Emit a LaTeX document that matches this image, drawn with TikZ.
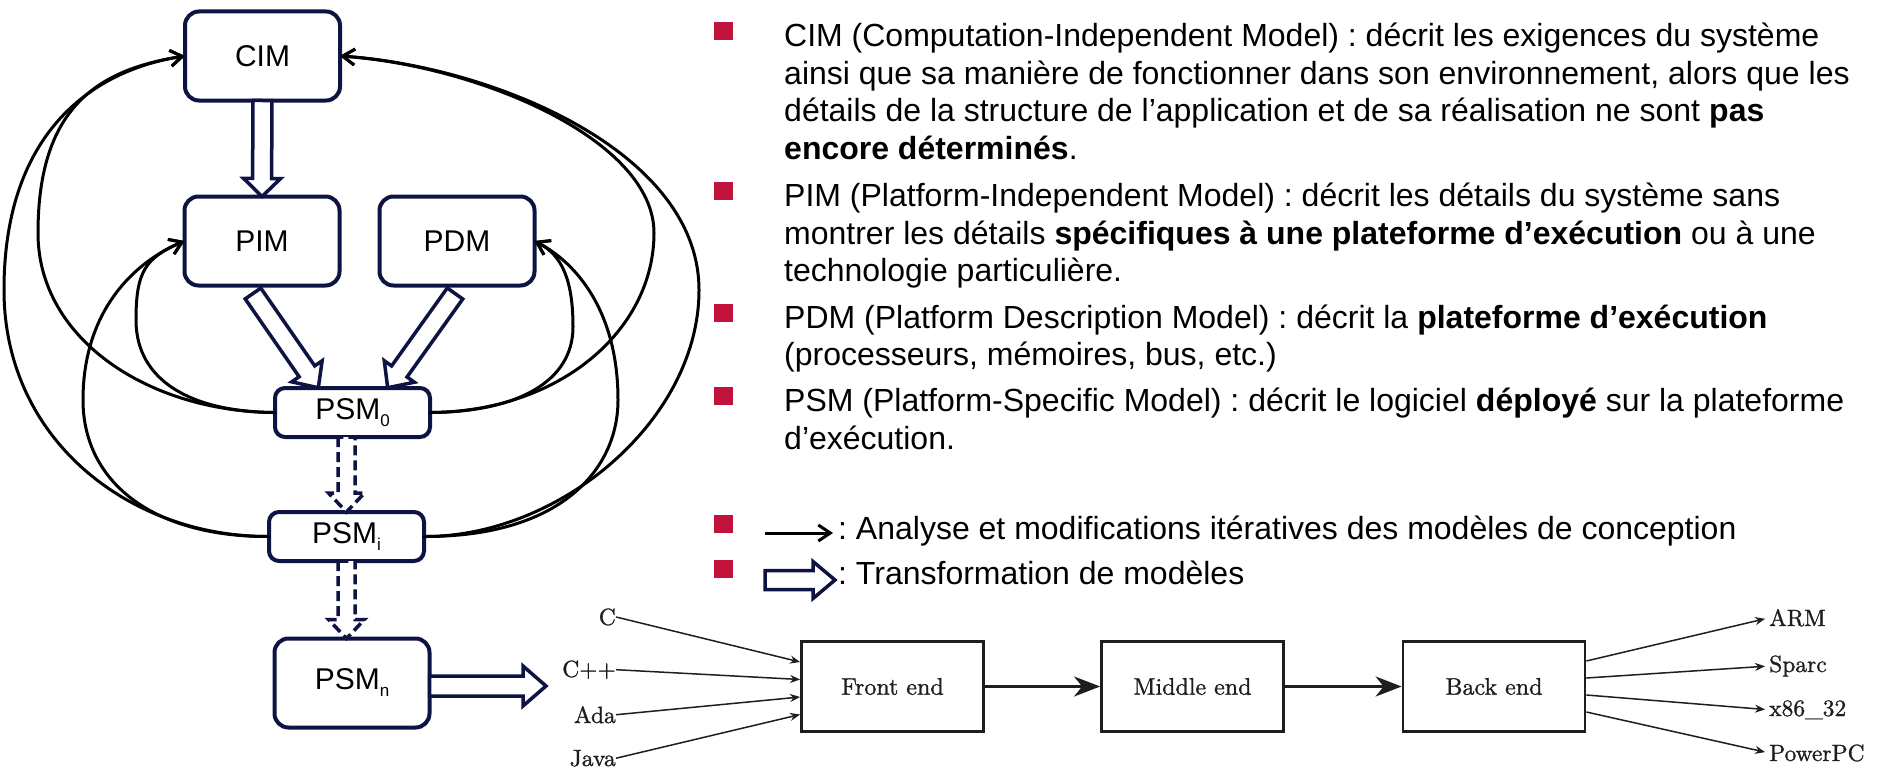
\documentclass[tikz,border=0pt]{standalone}
\usepackage{fontspec}
\setsansfont{Liberation Sans}
\newfontfamily\cmfont{lmroman10-regular.otf}[FakeBold=1.1]
\usetikzlibrary{arrows.meta,calc}
\frenchspacing

\definecolor{navy}{RGB}{13,19,66}
\definecolor{bulletred}{RGB}{192,18,58}
\definecolor{ink}{RGB}{30,30,30}

% small lowered index after a model name
\newcommand{\mdlidx}[1]{\raisebox{-7pt}{\fontsize{17}{17}\selectfont #1}}

% Hollow block arrow from #2 to #3: shaft half-width #4, head half-width #5, head length #6
\newcommand{\fatarrow}[6][]{%
  \path (#2) coordinate (fa-s) (#3) coordinate (fa-e);
  \pgfpointdiff{\pgfpointanchor{fa-s}{center}}{\pgfpointanchor{fa-e}{center}}%
  \pgfgetlastxy{\fadx}{\fady}%
  \pgfmathsetmacro{\falen}{veclen(\fadx,\fady)}%
  \pgfmathsetmacro{\faang}{atan2(\fady,\fadx)}%
  \pgfmathsetmacro{\faneck}{\falen-#6}%
  \begin{scope}[shift={(fa-s)}, rotate=\faang]
    \draw[fatarrow,#1] (0pt,-#4pt) -- (\faneck pt,-#4pt) -- (\faneck pt,-#5pt)
      -- (\falen pt,0pt) -- (\faneck pt,#5pt) -- (\faneck pt,#4pt) -- (0pt,#4pt) -- cycle;
  \end{scope}}

\begin{document}
\begin{tikzpicture}[x=1pt,y=-1pt,
  model/.style={draw=navy, line width=4pt, fill=white, inner sep=0pt, outer sep=0pt,
    font=\sffamily\fontsize{30}{36}\selectfont, text=black, minimum width=155pt},
  bigmodel/.style={model, rounded corners=14pt, minimum height=89pt},
  flatmodel/.style={model, rounded corners=10pt, minimum height=49pt},
  iter/.style={line width=3pt, line cap=round, -{Straight Barb[length=12pt,width=16pt]}},
  fatarrow/.style={draw=navy, line width=3.5pt, fill=white, line join=miter},
  fatdashed/.style={dash pattern=on 10pt off 5pt},
  line/.style={font=\sffamily\fontsize{32}{37.5}\selectfont, anchor=base west, inner sep=0pt},
  bullet/.style={fill=bulletred, minimum width=19pt, minimum height=18pt, inner sep=0pt},
  stage/.style={draw=ink, line width=2.8pt, minimum width=182pt, minimum height=90pt,
    font=\cmfont\fontsize{24}{28}\selectfont, text=ink, inner sep=0pt},
  lang/.style={font=\cmfont\fontsize{23.5}{28}\selectfont, text=ink, inner sep=0pt},
  feed/.style={draw=ink, line width=1.5pt, -{Stealth[length=10pt,width=8pt]}},
  flow/.style={draw=ink, line width=2.6pt, -{Stealth[length=26pt,width=20pt,inset=8pt]}},
]
\fill[white] (0,0) rectangle (1880,768);
\useasboundingbox (0,0) rectangle (1880,768);

% ---------- MDA models ----------
\node[bigmodel] (CIM) at (262.5,56) {CIM};
\node[bigmodel] (PIM) at (262,241) {PIM};
\node[bigmodel] (PDM) at (457,241) {PDM};
\node[flatmodel] (PSM0) at (352.5,412.5) {PSM\mdlidx{0}};
\node[flatmodel] (PSMi) at (346.5,536.5) {PSM\mdlidx{i}};
\node[bigmodel] (PSMn) at (352,683) {PSM\mdlidx{n}};

% iterative feedback loops, left side
\draw[iter] (PSM0.west) .. controls (150,412) and (38,340) .. (38,233)
  .. controls (38,110) and (95,70) .. (CIM.west);
\draw[iter] (PSMi.west) .. controls (130,537) and (4,440) .. (4,290)
  .. controls (4,130) and (95,70) .. (CIM.west);
\draw[iter] (PSM0.west) .. controls (190,412) and (136,380) .. (136,320)
  .. controls (136,272) and (145,258) .. (PIM.west);
\draw[iter] (PSMi.west) .. controls (150,537) and (83,480) .. (83,400)
  .. controls (83,310) and (135,262) .. (PIM.west);
% iterative feedback loops, right side
\draw[iter] (PSM0.east) .. controls (560,412) and (654,330) .. (654,233)
  .. controls (654,140) and (480,66) .. (CIM.east);
\draw[iter] (PSMi.east) .. controls (560,537) and (699,420) .. (699,290)
  .. controls (699,150) and (490,66) .. (CIM.east);
\draw[iter] (PSM0.east) .. controls (520,412) and (573,380) .. (573,327)
  .. controls (573,280) and (562,255) .. (PDM.east);
\draw[iter] (PSMi.east) .. controls (560,537) and (618,470) .. (618,400)
  .. controls (618,310) and (575,262) .. (PDM.east);

% model transformations
\fatarrow{CIM.south}{PIM.north}{9.5}{18.5}{18}
\fatarrow{$(PIM.south)+(-9,8)$}{$(PSM0.north)+(-34,0)$}{9.5}{18.5}{20}
\fatarrow{$(PDM.south)+(-2,8)$}{$(PSM0.north)+(35,0)$}{9.5}{18.5}{20}
\fatarrow[fatdashed]{PSM0.south -| PSMi.north}{PSMi.north}{8.5}{18}{19}
\fatarrow[fatdashed]{PSMi.south}{PSMi.south |- PSMn.north}{8.5}{18}{19}
\coordinate (handoff) at (546,686);
\fatarrow{$(PSMn.east)+(0,3)$}{handoff}{10}{20}{23}

% ---------- definitions ----------
\node[bullet] (b1) at (723.5,31) {};
\node[line] (c1) at (784,46.7) {CIM (Computation-Independent Model) : décrit les exigences du système};
\node[line] (c2) at (784,84.2) {ainsi que sa manière de fonctionner dans son environnement, alors que les};
\node[line] (c3) at (784,121.7) {détails de la structure de l’application et de sa réalisation ne sont \textbf{pas}};
\node[line] (c4) at (784,159.2) {\textbf{encore déterminés}.};

\node[bullet] (b2) at (723.5,191) {};
\node[line] (p1) at (784,206.7) {PIM (Platform-Independent Model) : décrit les détails du système sans};
\node[line] (p2) at (784,244.2) {montrer les détails \textbf{spécifiques à une plateforme d’exécution} ou à une};
\node[line] (p3) at (784,281.7) {technologie particulière.};

\node[bullet] (b3) at (723.5,312.5) {};
\node[line] (d1) at (784,328.2) {PDM (Platform Description Model) : décrit la \textbf{plateforme d’exécution}};
\node[line] (d2) at (784,365.7) {(processeurs, mémoires, bus, etc.)};

\node[bullet] (b4) at (723.5,396) {};
\node[line] (s1) at (784,411.5) {PSM (Platform-Specific Model) : décrit le logiciel \textbf{déployé} sur la plateforme};
\node[line] (s2) at (784,449) {d’exécution.};

% ---------- legend ----------
\node[bullet] (b5) at (723.5,523.5) {};
\coordinate (lgA) at (765,533);
\coordinate (lgB) at (833,533);
\draw[iter, line cap=butt] (lgA) -- (lgB);
\node[line] (l1) at (838,539.5) {: Analyse et modifications itératives des modèles de conception};

\node[bullet] (b6) at (723.5,569) {};
\coordinate (lgC) at (765,580);
\coordinate (lgD) at (835,580);
\fatarrow{lgC}{lgD}{9.5}{18.5}{22}
\node[line] (l2) at (838,584) {: Transformation de modèles};

% ---------- compiler pipeline ----------
\node[stage] (FE) at (892.5,686.5) {Front end};
\node[stage] (ME) at (1192.5,686.5) {Middle end};
\node[stage] (BE) at (1494,686.5) {Back end};

\node[lang, anchor=base east] (C)    at (616,625) {C};
\node[lang, anchor=base east] (Cpp)  at (616,677) {C++};
\node[lang, anchor=base east] (Ada)  at (616,723) {Ada};
\node[lang, anchor=base east] (Java) at (616,766) {Java};

\draw[feed] (C.east)    -- ($(FE.west)+(0,-24.5)$);
\draw[feed] (Cpp.east)  -- ($(FE.west)+(0,-7)$);
\draw[feed] (Ada.east)  -- ($(FE.west)+(0,10.5)$);
\draw[feed] (Java.east) -- ($(FE.west)+(0,28)$);

\draw[flow] (FE.east) -- (ME.west);
\draw[flow] (ME.east) -- (BE.west);

\node[lang, anchor=base west] (ARM)   at (1769,626) {ARM};
\node[lang, anchor=base west] (Sparc) at (1769,672) {Sparc};
\node[lang, anchor=base west] (x86)   at (1769,716) {x86\_32};
\node[lang, anchor=base west] (PPC)   at (1769,761) {PowerPC};

\draw[feed, shorten >=4pt] ($(BE.east)+(0,-25.5)$) -- (ARM.west);
\draw[feed, shorten >=4pt] ($(BE.east)+(0,-8.5)$)  -- (Sparc.west);
\draw[feed, shorten >=4pt] ($(BE.east)+(0,8.5)$)   -- (x86.west);
\draw[feed, shorten >=4pt] ($(BE.east)+(0,25.5)$)  -- (PPC.west);
\end{tikzpicture}
\end{document}
